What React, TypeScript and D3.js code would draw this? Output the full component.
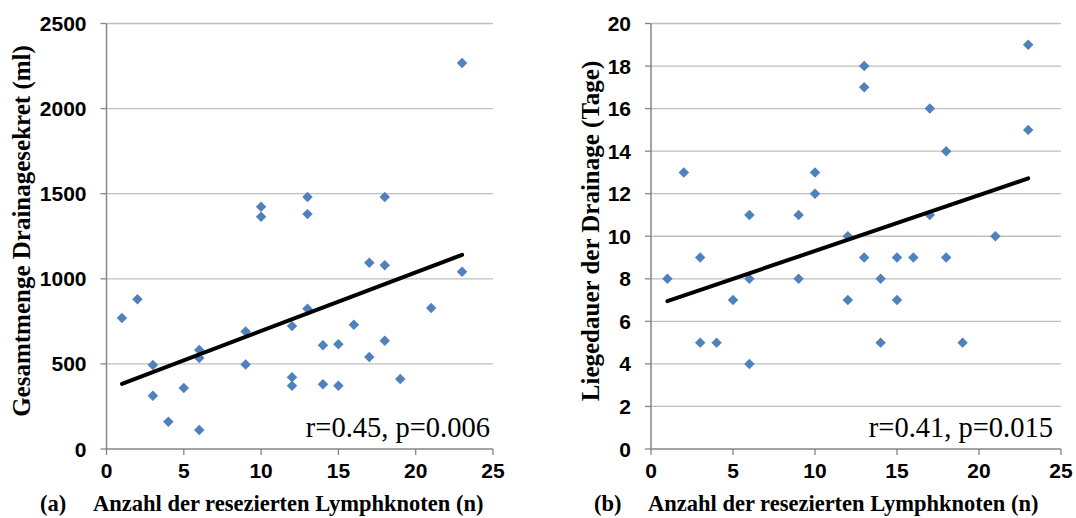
import React from "react";
import * as d3 from "d3";

// panel (a): Gesamtmenge Drainagesekret vs. Lymphknoten
const nodesA = [1, 2, 3, 3, 4, 5, 6, 6, 6, 9, 9, 10, 10, 12, 12, 12, 13, 13, 13, 14, 14, 15, 15, 16, 17, 17, 18, 18, 18, 19, 21, 23, 23];
const volumeA = [770, 880, 493, 313, 160, 358, 581, 535, 111, 691, 497, 1423, 1364, 722, 421, 371, 1481, 1380, 824, 609, 380, 615, 372, 730, 1094, 540, 1481, 1080, 636, 411, 828, 1041, 2268];
// trend line as drawn (x from 1 to 23)
const trendXA = [1, 23];
const trendYA = [383, 1141];

// panel (b): Liegedauer der Drainage vs. Lymphknoten
const nodesB = [1, 2, 3, 3, 4, 5, 6, 6, 6, 9, 9, 10, 10, 12, 12, 13, 13, 13, 14, 14, 15, 15, 16, 17, 17, 18, 18, 19, 21, 23, 23];
const daysB = [8, 13, 9, 5, 5, 7, 11, 8, 4, 11, 8, 13, 12, 10, 7, 18, 17, 9, 8, 5, 9, 7, 9, 16, 11, 14, 9, 5, 10, 19, 15];
const trendXB = [1, 23];
const trendYB = [6.95, 12.72];

const xTicks = [0, 5, 10, 15, 20, 25];
const yTicksA = [0, 500, 1000, 1500, 2000, 2500];
const yTicksB = [0, 2, 4, 6, 8, 10, 12, 14, 16, 18, 20];

const gridColor = "#bfbfbf";
const axisColor = "#868686";
const markerColor = "#4f81bd";
const sans = "'Liberation Sans', Arial, sans-serif";
const serif = "'Liberation Serif', 'Times New Roman', serif";

type PanelProps = {
  xs: number[];
  ys: number[];
  trendX: number[];
  trendY: number[];
  yTicks: number[];
  left: number;
  right: number;
  yTitle: string;
  tag: string;
  note: string;
  noteRight: number;
  titleX: number;
  tagX: number;
  yTitleX: number;
};

const Panel = (p: PanelProps) => {
  const { xs, ys, yTicks, left, right } = p;
  const top = 23.5;
  const bottom = 449;
  const x = d3.scaleLinear().domain([0, 25]).range([left, right]);
  const y = d3.scaleLinear().domain([0, yTicks[yTicks.length - 1]]).range([bottom, top]);
  const diamond = d3.symbol().type(d3.symbolDiamond2).size(70)();
  const trend = d3.line<number>().x((d) => x(d)).y((d, i) => y(p.trendY[i]));

  return (
    <g>
      {yTicks.slice(1).map((t) => (
        <line key={"g" + t} x1={left} x2={right} y1={y(t)} y2={y(t)} stroke={gridColor} strokeWidth={1.3} />
      ))}
      {yTicks.map((t) => (
        <g key={"y" + t}>
          <line x1={left - 6} x2={left} y1={y(t)} y2={y(t)} stroke={axisColor} strokeWidth={1.3} />
          <text x={left - 20} y={y(t)} dy="0.36em" textAnchor="end" fontFamily={sans} fontWeight="bold" fontSize={21}>
            {t}
          </text>
        </g>
      ))}
      {xTicks.map((t) => (
        <g key={"x" + t}>
          <line x1={x(t)} x2={x(t)} y1={bottom} y2={bottom + 6} stroke={axisColor} strokeWidth={1.3} />
          <text x={x(t)} y={bottom + 29} textAnchor="middle" fontFamily={sans} fontWeight="bold" fontSize={21}>
            {t}
          </text>
        </g>
      ))}
      <line x1={left} x2={left} y1={top} y2={bottom} stroke={axisColor} strokeWidth={1.5} />
      <line x1={left} x2={right} y1={bottom} y2={bottom} stroke={axisColor} strokeWidth={1.5} />

      {xs.map((v, i) => (
        <path key={"p" + i} d={diamond!} transform={`translate(${x(v)},${y(ys[i])})`} fill={markerColor} />
      ))}

      <path d={trend(p.trendX)!} stroke="#000" strokeWidth={4} strokeLinecap="round" fill="none" />

      <text x={p.noteRight} y={437} textAnchor="end" fontFamily={serif} fontSize={28.5}>
        {p.note}
      </text>

      <text x={p.tagX} y={511} fontFamily={serif} fontWeight="bold" fontSize={22.5}>
        {p.tag}
      </text>
      <text x={p.titleX} y={511} fontFamily={serif} fontWeight="bold" fontSize={22.5}>
        Anzahl der resezierten Lymphknoten (n)
      </text>
      <text
        transform={`translate(${p.yTitleX},231) rotate(-90)`}
        textAnchor="middle"
        fontFamily={serif}
        fontWeight="bold"
        fontSize={25}
      >
        {p.yTitle}
      </text>
    </g>
  );
};

export default function App() {
  return (
    <svg width={1076} height={518} style={{ position: "absolute", left: 0, top: 0, background: "#fff" }}>
      <Panel
        xs={nodesA}
        ys={volumeA}
        trendX={trendXA}
        trendY={trendYA}
        yTicks={yTicksA}
        left={106.5}
        right={493}
        yTitle="Gesamtmenge Drainagesekret (ml)"
        tag="(a)"
        note="r=0.45, p=0.006"
        noteRight={490}
        titleX={93}
        tagX={40}
        yTitleX={30}
      />
      <Panel
        xs={nodesB}
        ys={daysB}
        trendX={trendXB}
        trendY={trendYB}
        yTicks={yTicksB}
        left={651}
        right={1061}
        yTitle="Liegedauer der Drainage (Tage)"
        tag="(b)"
        note="r=0.41, p=0.015"
        noteRight={1053}
        titleX={648}
        tagX={594}
        yTitleX={599}
      />
    </svg>
  );
}
